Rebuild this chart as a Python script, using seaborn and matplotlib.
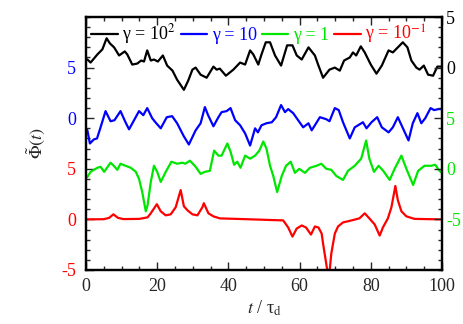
import matplotlib
matplotlib.use("Agg")
import matplotlib.pyplot as plt
import seaborn as sns
import pandas as pd
from matplotlib.ticker import MultipleLocator

# gamma = 10^2 (shifted up by 15)
t_black = [0, 0.4, 1.3, 3.2, 4.6, 5.8, 6.7, 7.9, 9.3, 10.9, 11.6, 13.0, 14.4, 15.5, 16.3, 17.2,
           18.2, 19.1, 20.2, 21.6, 22.8, 24.3, 25.6, 27.5, 28.7, 29.9, 30.8, 32.2, 33.9, 35.8,
           36.7, 37.6, 39.3, 41.4, 43.3, 44.7, 46.1, 47.0, 48.4, 49.3, 50.5, 51.7, 53.1, 54.8,
           56.5, 58.0, 59.2, 60.6, 62.5, 64.3, 65.2, 66.6, 68.4, 69.9, 71.3, 72.5, 74.1, 75.0,
           75.9, 77.2, 78.3, 80.0, 81.6, 83.1, 85.0, 86.2, 87.6, 89.0, 90.3, 91.4, 92.8, 93.7,
           94.9, 96.1, 97.5, 98.7, 100]
v_black = [0.8, 0.8, 0.5, 1.3, 1.8, 2.9, 2.4, 2.0, 1.2, 1.6, 1.3, 0.3, 0.4, 0.7, 0.6, 1.7,
           0.7, 0.8, 0.6, 1.2, 0.2, -0.3, -1.2, -2.2, -1.3, -0.2, 0.0, -0.7, -1.0, 0.1,
           -0.2, -0.1, -0.8, -0.2, 0.5, 0.3, 1.7, 1.3, 0.3, 1.3, 2.5, 2.5, 1.2, 0.2,
           2.2, 2.2, 1.2, 0.8, 2.0, 1.2, 0.3, -1.0, -0.2, 0.0, -0.3, 0.7, 1.0, 1.5,
           1.2, 2.1, 1.5, 0.3, -0.6, 0.2, 1.7, 1.5, 2.0, 2.5, 2.0, 0.7, 0.0, -0.2,
           0.2, -0.7, -0.8, 0.1, 0.1]

# gamma = 10 (shifted up by 10)
t_blue = [0, 0.4, 1.1, 2.2, 3.1, 4.1, 5.5, 6.9, 8.0, 9.7, 11.1, 12.1, 13.5, 14.9, 16.1, 17.2,
          18.6, 19.5, 21.0, 22.7, 24.2, 25.6, 27.5, 28.9, 30.8, 32.2, 33.4, 34.3, 35.8, 37.2,
          38.1, 39.5, 40.6, 41.9, 43.3, 44.7, 46.1, 47.5, 48.3, 49.3, 50.7, 52.2, 53.4, 54.8,
          55.9, 56.8, 58.2, 59.6, 61.0, 62.5, 63.4, 64.3, 65.7, 66.6, 67.5, 68.4, 69.9, 71.0,
          72.2, 74.1, 75.5, 76.9, 77.8, 78.8, 80.2, 81.8, 83.1, 85.0, 86.2, 87.6, 89.3, 90.6,
          91.8, 93.1, 94.2, 95.3, 96.8, 97.8, 99.0, 100]
v_blue = [-1.0, -1.2, -2.5, -2.1, -2.0, -0.9, 0.7, -0.3, -0.2, 0.7, -0.4, -1.1, -0.2, 0.7, 0.3, 1.0,
          0.0, -0.4, -1.0, 0.1, 0.2, -0.5, -1.8, -2.6, -1.2, -0.5, 1.1, 0.3, -0.8, 0.1,
          0.6, 0.7, 1.0, -0.2, -0.7, -1.5, -2.7, -1.0, -1.4, -0.7, -0.5, -0.4, 0.1, 1.3,
          0.6, 0.9, 0.5, -0.2, -0.9, -0.5, -1.2, -0.7, 0.1, 0.0, -0.1, -0.3, 1.0, 0.8,
          -0.4, -2.0, -0.9, -0.6, -0.4, -1.0, -0.4, 0.1, -0.9, -1.4, -0.9, 0.1, -1.2, -2.2,
          -0.5, 0.5, -0.5, 0.0, 1.0, 0.8, 0.9, 0.9]

# gamma = 1 (shifted up by 5)
t_green = [0, 0.4, 1.3, 3.2, 4.1, 5.1, 6.9, 7.8, 8.8, 9.7, 11.1, 12.6, 14.0, 14.9, 15.8, 16.8,
           17.3, 18.2, 19.1, 20.0, 21.0, 22.4, 24.0, 25.6, 27.1, 27.9, 29.2, 30.8, 32.2, 33.4,
           34.8, 36.0, 37.2, 38.1, 39.7, 40.6, 41.6, 42.5, 43.4, 44.7, 46.1, 47.5, 48.7, 49.8,
           50.7, 51.7, 52.6, 53.7, 55.0, 56.2, 57.5, 58.7, 59.9, 61.5, 62.9, 64.8, 66.1, 67.5,
           68.9, 70.3, 72.2, 73.6, 75.5, 77.3, 78.7, 79.6, 80.9, 82.2, 83.5, 85.3, 86.7, 88.6,
           90.0, 91.9, 93.3, 95.1, 97.0, 98.1, 99.3, 100]
v_green = [-0.9, -0.8, -0.3, 0.1, 0.2, -0.3, 0.6, 0.3, -0.1, 0.5, 0.3, 0.1, -0.3, -1.0, -2.3, -4.2,
           -3.6, -1.3, 0.3, -0.3, -1.3, -0.3, 0.7, 0.5, 0.6, 0.5, 0.8, 0.2, -0.5, -0.3,
           -0.2, 1.8, 1.3, 1.3, 2.5, 1.7, 0.4, 0.7, 0.1, 1.3, 1.0, 1.3, 1.8, 2.7,
           2.0, 0.3, -0.7, -2.3, -0.7, 0.3, 0.7, -0.4, 0.0, -0.4, 0.1, 0.3, 0.5, 0.0,
           -0.1, -0.7, -1.1, -0.2, 0.3, 1.0, 2.8, 1.0, -0.3, 0.3, -0.2, -1.1, 0.0, 1.3,
           0.0, -1.6, -0.2, 0.3, 0.3, 0.4, -0.2, -0.4]

# gamma = 10^-1 (no shift)
t_red = [0, 5, 6.5, 7.7, 9, 10.5, 15, 17.3, 18.2, 19.9, 21.0, 22.4, 23.8, 25.2, 26.6, 27.5,
         28.5, 29.9, 31.3, 32.7, 33.1, 34.4, 35.8, 37.6, 45, 55.4, 56.8, 58.0, 59.2, 60.6,
         61.8, 63.2, 64.3, 65.3, 66.2, 66.6, 67.5, 68.2, 68.9, 69.9, 70.8, 72.2, 74.6, 76.8,
         78.3, 79.6, 81.1, 82.5, 83.4, 84.8, 85.8, 86.9, 87.6, 88.6, 90.0, 92.3, 100]
v_red = [0, 0.02, 0.15, 0.5, 0.15, 0.03, 0.05, 0.2, 0.6, 1.5, 0.8, 0.4, 0.5, 1.2, 2.9, 1.3,
         0.9, 0.5, 0.4, 1.2, 1.6, 0.6, 0.3, 0.1, 0.02, -0.1, -0.8, -1.7, -0.9, -0.6,
         -0.8, -1.5, -0.7, -0.8, -1.4, -2.4, -4.4, -6.0, -3.4, -1.4, -0.7, -0.3, -0.1, 0.1,
         0.6, 0.1, -0.5, -1.6, -0.8, 0.1, 1.2, 3.3, 1.9, 0.8, 0.3, 0.05, 0]

labels = ["γ = 10$^{2}$", "γ = 10", "γ = 1", "γ = 10$^{-1}$"]
colors = ["#000000", "#0000ff", "#00e600", "#ff0000"]
offsets = [15, 10, 5, 0]

sns.set_style("ticks")
plt.rcParams["font.family"] = ["Liberation Serif", "DejaVu Serif"]
plt.rcParams["mathtext.fontset"] = "stix"
plt.rcParams["font.size"] = 13

fig = plt.figure(figsize=(4.63, 3.24), dpi=100)
ax = fig.add_axes([0.1857, 0.1667, 0.7689, 0.7808])

series = [(t_black, v_black), (t_blue, v_blue), (t_green, v_green), (t_red, v_red)]
for (t, v), lab, c, off in zip(series, labels, colors, offsets):
    df = pd.DataFrame({"t": t, "phi": [x + off for x in v]})
    sns.lineplot(data=df, x="t", y="phi", ax=ax, color=c, lw=1.6, label=lab,
                 estimator=None, sort=False)

ax.set_xlim(0, 100)
ax.set_ylim(-5, 20)
ax.xaxis.set_major_locator(MultipleLocator(20))
ax.xaxis.set_minor_locator(MultipleLocator(5))
ax.set_yticks([-5, 0, 5, 10, 15])
ax.set_yticklabels(["-5", "0", "5", "0", "5"])
for lbl, c in zip(ax.get_yticklabels(), ["#ff0000", "#ff0000", "#ff0000", "#0000ff", "#0000ff"]):
    lbl.set_color(c)
ax.yaxis.set_minor_locator(MultipleLocator(1))
ax.tick_params(which="both", direction="in", top=True, right=False, width=1.0)
ax.tick_params(which="major", length=6)
ax.tick_params(which="minor", length=3)
ax.tick_params(axis="y", pad=7)
ax.tick_params(axis="x", pad=6)

ax2 = ax.twinx()
ax2.set_ylim(-5, 20)
ax2.set_yticks([0, 5, 10, 15, 20])
ax2.set_yticklabels(["-5", "0", "5", "0", "5"])
for lbl, c in zip(ax2.get_yticklabels(), ["#00e600", "#00e600", "#00e600", "#000000", "#000000"]):
    lbl.set_color(c)
ax2.yaxis.set_minor_locator(MultipleLocator(1))
ax2.tick_params(which="both", direction="in", width=1.0, pad=3)
ax2.tick_params(which="major", length=6)
ax2.tick_params(which="minor", length=3)

for a in (ax, ax2):
    for s in a.spines.values():
        s.set_linewidth(1.6)
        s.set_color("black")

ax.set_xlabel(r"$t$ / τ$_\mathrm{d}$", labelpad=2)
ax.set_ylabel(r"$\tilde{\Phi}(t)$", labelpad=10)

leg = ax.legend(loc="upper left", bbox_to_anchor=(0.0, 1.0), ncol=4, frameon=False,
                handlelength=1.45, handletextpad=0.25, columnspacing=0.3,
                borderaxespad=0.1, borderpad=0.2)
for txt, c in zip(leg.get_texts(), colors):
    txt.set_color(c)

fig.savefig("out.png", dpi=100)
